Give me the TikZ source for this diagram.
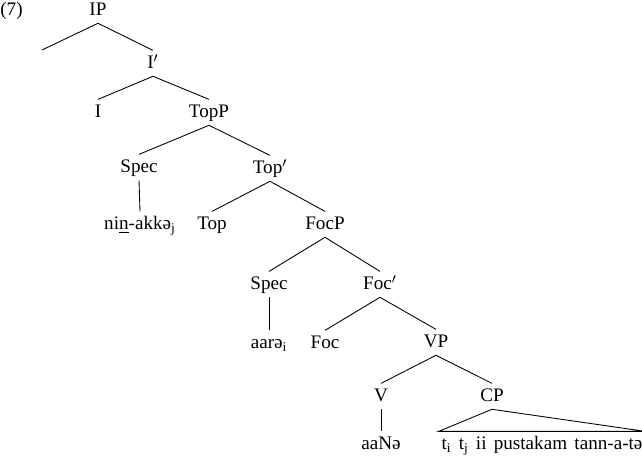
\documentclass[tikz,border=0pt]{standalone}
\usepackage{fontspec}
\setmainfont{Liberation Serif}
\begin{document}
\begin{tikzpicture}[x=0.575pt, y=-0.575pt,
  every node/.style={font=\fontsize{11}{13}\selectfont},
  lab/.style={anchor=base, inner sep=1.5pt, text height=9pt, text depth=2.5pt},
  branch/.style={line width=0.5pt}]

\useasboundingbox (0,0) rectangle (642,458);
\def\gap{\hspace{0.38em}}

%% example number
\node[anchor=base west, inner sep=0pt] (num) at (0,16) {(7)};

%% IP level
\node[lab] (ip)   at (98,16)  {IP};
\coordinate (ipleft) at (42,50);
\node[lab] (ibar) at (153,69) {I$'$};

%% TopP level
\node[lab] (i)     at (98,118)  {I};
\node[lab] (topp)  at (209,118) {TopP};
\node[lab] (spec1) at (139,173) {Spec};
\node[lab] (topbar) at (270,174) {Top$'$};
\node[lab] (nin)   at (140,230) {ni\underline{n}-akkə\textsubscript{j}};
\node[lab] (top)   at (212,230) {Top};

%% FocP level
\node[lab] (focp)  at (325,230) {FocP};
\node[lab] (spec2) at (269,290) {Spec};
\node[lab] (focbar) at (380,290) {Foc$'$};
\node[lab] (aare)  at (269,349) {aarə\textsubscript{i}};
\node[lab] (foc)   at (325,349) {Foc};

%% VP level
\node[lab] (vp)    at (436,348) {VP};
\node[lab] (v)     at (381,402) {V};
\node[lab] (cp)    at (492,402) {CP};
\node[lab] (aane)  at (381,450) {aaNə};
\node[lab] (cpstr) at (542,450)
  {t\textsubscript{i}\gap t\textsubscript{j}\gap ii\gap pustakam\gap tann-a-tə};

%% branches
\draw[branch] (ip.south) -- (ipleft);
\draw[branch] (ip.south) -- (ibar.north);
\draw[branch] (ibar.south) -- (i.north);
\draw[branch] (ibar.south) -- (topp.north);
\draw[branch] (topp.south) -- (spec1.north);
\draw[branch] (topp.south) -- (topbar.north);
\draw[branch] (spec1.south) -- (nin.north);
\draw[branch] (topbar.south) -- (top.north);
\draw[branch] (topbar.south) -- (focp.north);
\draw[branch] (focp.south) -- (spec2.north);
\draw[branch] (focp.south) -- (focbar.north);
\draw[branch] (spec2.south) -- (aare.north);
\draw[branch] (focbar.south) -- (foc.north);
\draw[branch] (focbar.south) -- (vp.north);
\draw[branch] (vp.south) -- (v.north);
\draw[branch] (vp.south) -- (cp.north);
\draw[branch] (v.south) -- (aane.north);

%% triangle over CP
\draw[branch] (cp.south) -- (cpstr.north west) -- (cpstr.north east) -- cycle;

\end{tikzpicture}
\end{document}
